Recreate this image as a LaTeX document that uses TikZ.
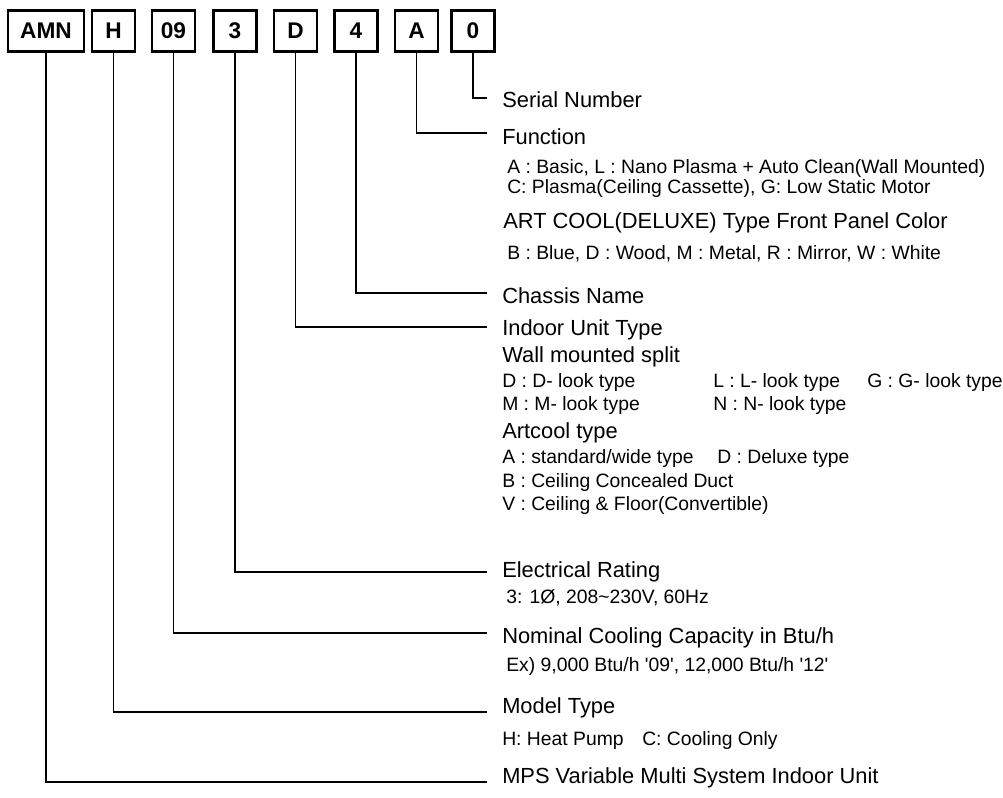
\documentclass[tikz,border=0pt]{standalone}
\usepackage{fontspec}
\setmainfont{Liberation Sans}
\usepackage{tikz}

\begin{document}
\begin{tikzpicture}[x=0.75pt,y=0.75pt,yscale=-1,xscale=1,
  codebox/.style={draw,line width=1.9pt,minimum width=32.25pt,minimum height=30.75pt,inner sep=0pt,font=\fontsize{17}{20}\selectfont\bfseries},
  lead/.style={line width=1.1pt},
  lbl/.style={anchor=base west,inner sep=0pt,font=\fontsize{16.4}{19}\selectfont},
  sub/.style={anchor=base west,inner sep=0pt,font=\fontsize{14.5}{17}\selectfont}]
\useasboundingbox (0,0) rectangle (1003,797);

% Code boxes
\draw (46,31) node [codebox,minimum width=57pt] (bamn) {AMN};
\draw (113.5,31) node [codebox] (bh) {H};
\draw (173.5,31) node [codebox] (b09) {09};
\draw (235,31) node [codebox] (b3) {3};
\draw (295.5,31) node [codebox] (bd) {D};
\draw (356,31) node [codebox] (b4) {4};
\draw (416.5,31) node [codebox] (ba) {A};
\draw (473,31) node [codebox] (b0) {0};

% Line ends
\coordinate (e0) at (487,98);
\coordinate (ea) at (487,133);
\coordinate (e4) at (487,293);
\coordinate (ed) at (487,327);
\coordinate (e3) at (487,572);
\coordinate (e09) at (487,633);
\coordinate (eh) at (487,712);
\coordinate (eamn) at (487,782);

%Straight Lines
\draw [lead] (b0.south) |- (e0);
%Straight Lines
\draw [lead] (ba.south) |- (ea);
%Straight Lines
\draw [lead] (b4.south) |- (e4);
%Straight Lines
\draw [lead] (bd.south) |- (ed);
%Straight Lines
\draw [lead] (b3.south) |- (e3);
%Straight Lines
\draw [lead] (b09.south) |- (e09);
%Straight Lines
\draw [lead] (bh.south) |- (eh);
%Straight Lines
\draw [lead] (bamn.south) |- (eamn);

% Text Node
\draw (502,107) node [lbl] (serial) {Serial Number};
% Text Node
\draw (502,144) node [lbl] (func) {Function};
% Text Node
\draw (507,173) node [sub] (funca) {A : Basic, L : Nano Plasma + Auto Clean(Wall Mounted)};
% Text Node
\draw (507,193) node [sub] (funcc) {C: Plasma(Ceiling Cassette), G: Low Static Motor};
% Text Node
\draw (503,228) node [lbl] (panel) {ART COOL(DELUXE) Type Front Panel Color};
% Text Node
\draw (507,259) node [sub] (panelc) {B : Blue, D : Wood, M : Metal, R : Mirror, W : White};
% Text Node
\draw (502,303) node [lbl] (chassis) {Chassis Name};
% Text Node
\draw (502,335) node [lbl] (indoor) {Indoor Unit Type};
% Text Node
\draw (502,362) node [lbl] (wall) {Wall mounted split};
% Text Node
\draw (502,387) node [sub] (wd) {D : D- look type};
% Text Node
\draw (713,387) node [sub] (wl) {L : L- look type};
% Text Node
\draw (867,387) node [sub] (wg) {G : G- look type};
% Text Node
\draw (502,410) node [sub] (wm) {M : M- look type};
% Text Node
\draw (713,410) node [sub] (wn) {N : N- look type};
% Text Node
\draw (502,438) node [lbl] (art) {Artcool type};
% Text Node
\draw (502,463) node [sub] (arta) {A : standard/wide type};
% Text Node
\draw (717,463) node [sub] (artd) {D : Deluxe type};
% Text Node
\draw (502,487) node [sub] (duct) {B : Ceiling Concealed Duct};
% Text Node
\draw (502,510) node [sub] (conv) {V : Ceiling \& Floor(Convertible)};
% Text Node
\draw (502,577) node [lbl] (elec) {Electrical Rating};
% Text Node
\draw (506,603) node [sub] (elecv) {3: 1Ø, 208\textasciitilde230V, 60Hz};
% Text Node
\draw (502,643) node [lbl] (cap) {Nominal Cooling Capacity in Btu/h};
% Text Node
\draw (506,671) node [sub] (capex) {Ex) 9,000 Btu/h \textquotesingle09\textquotesingle, 12,000 Btu/h \textquotesingle12\textquotesingle};
% Text Node
\draw (502,713) node [lbl] (model) {Model Type};
% Text Node
\draw (502,745) node [sub] (mhp) {H: Heat Pump};
% Text Node
\draw (642,745) node [sub] (mco) {C: Cooling Only};
% Text Node
\draw (502,783) node [lbl] (mps) {MPS Variable Multi System Indoor Unit};

\end{tikzpicture}
\end{document}
